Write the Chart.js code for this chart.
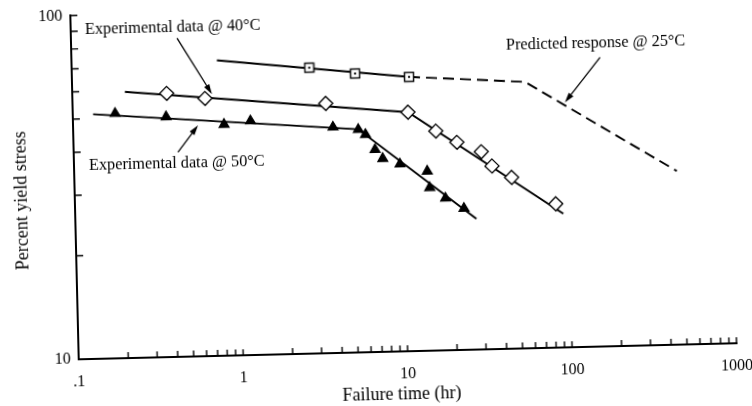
<!DOCTYPE html>
<html><head><meta charset="utf-8">
<script src="https://cdn.jsdelivr.net/npm/chart.js@4.4.1/dist/chart.umd.min.js"></script>
<style>
html,body{margin:0;padding:0;background:#fff;overflow:hidden;width:752px;height:406px}
#c{position:absolute;left:0;top:0;transform:rotate(-1.4deg);transform-origin:376px 203px}
</style></head><body>
<canvas id="c" width="752" height="406"></canvas>
<script>
// ---- data (failure time in hr, percent yield stress) ----
const t25 = [2.78, 5.27, 11.2];
const s25 = [67.9, 64.8, 62.8];
const t40 = [0.375, 0.640, 3.46, 10.9, 16.0, 21.4, 30.0, 34.7, 45.5, 83.6];
const s40 = [58.5, 56.2, 53.3, 49.6, 43.5, 40.2, 37.6, 34.1, 31.5, 26.2];
const t50 = [0.181, 0.369, 0.828, 1.20, 3.80, 5.41, 5.97, 6.79, 7.54, 9.58, 14.0, 14.4, 17.9, 23.1];
const s50 = [51.6, 50.0, 47.1, 48.0, 45.4, 44.5, 43.0, 38.8, 36.5, 35.1, 33.3, 29.8, 27.7, 25.8];
const fit25T = [0.766, 11.2];
const fit25S = [72.4, 62.8];
const pred25T = [11.2, 56.6, 460];
const pred25S = [62.8, 59.6, 32.0];
const fit40T = [0.209, 10.9, 92.6];
const fit40S = [59.5, 49.6, 24.5];
const fit50T = [0.133, 5.4, 27.4];
const fit50S = [51.5, 44.6, 24.0];
const xTickVals = [0.1,0.2,0.3,0.4,0.5,0.6,0.7,0.8,0.9,1,2,3,4,5,6,7,8,9,10,20,30,40,50,60,70,80,90,100,200,300,400,500,600,700,800,900,1000];
const xLabels = {0.1:'.1', 1:'1', 10:'10', 100:'100', 1000:'1000'};
const yTickVals = [10,20,30,40,50,60,70,80,90,100];
const yLabels = {10:'10', 100:'100'};
const xTitle = 'Failure time (hr)';
const yTitle = 'Percent yield stress';
const noteText = ['Experimental data @ 40°C', 'Experimental data @ 50°C', 'Predicted response @ 25°C'];

// annotation placement (data coordinates)
const notes = [
  {tx:0.122, ty:90.5, x1:0.4416, y1:84.5, x2:0.7066, y2:57.8},
  {tx:0.1233, ty:36.6, x1:0.4305, y1:39.4, x2:0.575, y2:47.0},
  {tx:44.0, ty:76.4, x1:163.3, y1:69.4, x2:98.4, y2:51.6}
];

const pts = (ts, ss) => ts.map((t, i) => ({x: t, y: ss[i]}));
const SERIF = '"Liberation Serif", "DejaVu Serif", serif';

// open square marker with centre dot
const sq = document.createElement('canvas');
sq.width = 12; sq.height = 12;
(function(){
  const g = sq.getContext('2d');
  g.fillStyle = '#fff'; g.fillRect(1, 1, 10, 10);
  g.strokeStyle = '#000'; g.lineWidth = 1.4; g.strokeRect(1.5, 1.5, 9, 9);
  g.fillStyle = '#000'; g.fillRect(5, 5, 2, 2);
})();

const inward = {
  id: 'inward',
  afterDraw(chart) {
    const {ctx, chartArea: a, scales: {x, y}} = chart;
    ctx.save();
    ctx.strokeStyle = '#000'; ctx.lineWidth = 1.4;
    ctx.beginPath();
    xTickVals.forEach(v => { if (v <= 0.1) return; const px = x.getPixelForValue(v); ctx.moveTo(px, a.bottom); ctx.lineTo(px, a.bottom - 6); });
    yTickVals.forEach(v => { if (v <= 10) return; const py = y.getPixelForValue(v); ctx.moveTo(a.left, py); ctx.lineTo(a.left + 7, py); });
    ctx.stroke();
    ctx.restore();
  }
};

const annot = {
  id: 'annot',
  afterDraw(chart) {
    const {ctx, scales: {x, y}} = chart;
    ctx.save();
    ctx.fillStyle = '#000'; ctx.strokeStyle = '#000';
    // axis titles
    ctx.font = '18px ' + SERIF;
    ctx.textAlign = 'center'; ctx.textBaseline = 'middle';
    ctx.fillText(xTitle, x.getPixelForValue(9.1), 395);
    ctx.save();
    ctx.translate(22, y.getPixelForValue(29.2));
    ctx.rotate(-Math.PI / 2);
    ctx.fillText(yTitle, 0, 0);
    ctx.restore();
    // annotations
    ctx.font = '16.3px ' + SERIF;
    ctx.textAlign = 'left'; ctx.textBaseline = 'middle';
    notes.forEach((n, i) => {
      ctx.fillText(noteText[i], x.getPixelForValue(n.tx), y.getPixelForValue(n.ty));
      const ax = x.getPixelForValue(n.x1), ay = y.getPixelForValue(n.y1);
      const bx = x.getPixelForValue(n.x2), by = y.getPixelForValue(n.y2);
      const ang = Math.atan2(by - ay, bx - ax);
      const L = 10, W = 3;
      ctx.lineWidth = 1.3;
      ctx.beginPath();
      ctx.moveTo(ax, ay);
      ctx.lineTo(bx - Math.cos(ang) * (L - 2), by - Math.sin(ang) * (L - 2));
      ctx.stroke();
      ctx.beginPath();
      ctx.moveTo(bx, by);
      ctx.lineTo(bx - Math.cos(ang) * L + Math.sin(ang) * W, by - Math.sin(ang) * L - Math.cos(ang) * W);
      ctx.lineTo(bx - Math.cos(ang) * L - Math.sin(ang) * W, by - Math.sin(ang) * L + Math.cos(ang) * W);
      ctx.closePath();
      ctx.fill();
    });
    ctx.restore();
  }
};

const lineDs = (d, dash) => ({
  data: d, borderColor: '#000', borderWidth: 1.9, borderDash: dash || [],
  pointRadius: 0, fill: false, tension: 0, order: 2, showLine: true
});
const markDs = (d, style, r, fill) => ({
  data: d, showLine: false, pointStyle: style, pointRadius: r,
  pointBackgroundColor: fill, pointBorderColor: '#000', pointBorderWidth: 1.3, order: 1
});

new Chart(document.getElementById('c'), {
  type: 'scatter',
  data: {
    datasets: [
      markDs(pts(t25, s25), sq, 6, '#fff'),
      markDs(pts(t40, s40), 'rectRot', 7, '#fff'),
      markDs(pts(t50, s50), 'triangle', 5.6, '#000'),
      lineDs(pts(fit25T, fit25S)),
      lineDs(pts(pred25T, pred25S), [11, 6]),
      lineDs(pts(fit40T, fit40S)),
      lineDs(pts(fit50T, fit50S))
    ]
  },
  options: {
    responsive: false, animation: false, devicePixelRatio: 1,
    layout: {padding: {top: 8, right: 19, left: 0, bottom: 0}},
    plugins: {legend: {display: false}, tooltip: {enabled: false}},
    events: [],
    scales: {
      x: {
        type: 'logarithmic', min: 0.1, max: 1000,
        afterBuildTicks: s => { s.ticks = xTickVals.map(v => ({value: v})); },
        afterFit: s => { s.height = 54; s.paddingLeft = 0; s.paddingRight = 0; },
        grid: {display: false, drawTicks: false},
        border: {display: true, color: '#000', width: 2},
        ticks: {autoSkip: false, maxRotation: 0, minRotation: 0, padding: 13, color: '#000',
          font: {family: SERIF, size: 16},
          callback: v => xLabels[v] !== undefined ? xLabels[v] : ''},
        title: {display: false}
      },
      y: {
        type: 'logarithmic', min: 10, max: 100,
        afterBuildTicks: s => { s.ticks = yTickVals.map(v => ({value: v})); },
        afterFit: s => { s.width = 75; s.paddingTop = 0; s.paddingBottom = 0; },
        grid: {display: false, drawTicks: false},
        border: {display: true, color: '#000', width: 2},
        ticks: {autoSkip: false, padding: 8, color: '#000',
          font: {family: SERIF, size: 16},
          callback: v => yLabels[v] !== undefined ? yLabels[v] : ''},
        title: {display: false}
      }
    }
  },
  plugins: [inward, annot]
});
</script>
</body></html>
